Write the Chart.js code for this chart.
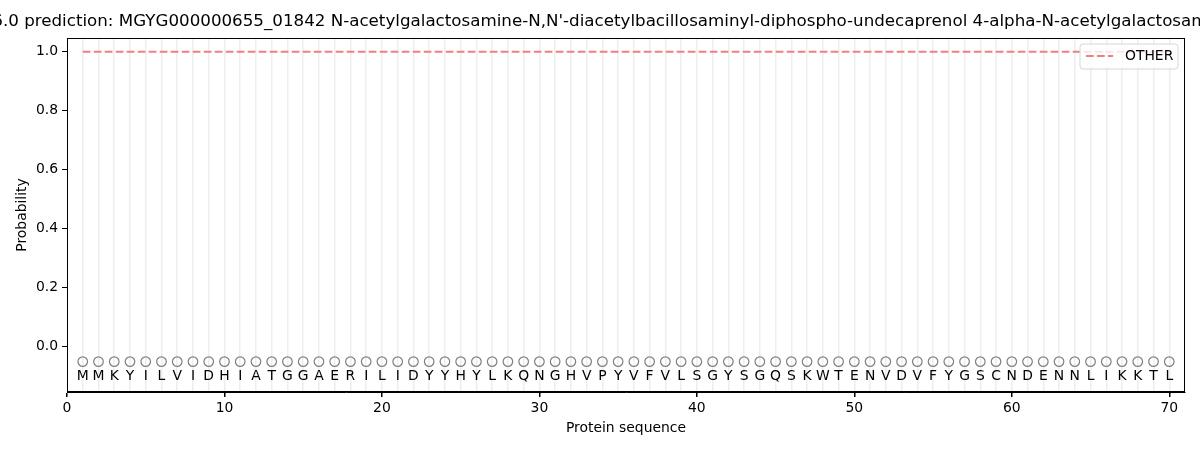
<!DOCTYPE html>
<html>
<head>
<meta charset="utf-8">
<script src="https://cdn.jsdelivr.net/npm/chart.js@4.4.0/dist/chart.umd.min.js"></script>
<style>
  html, body { margin: 0; padding: 0; background: #fff; }
  #wrap { width: 1200px; height: 450px; }
</style>
</head>
<body>
<div id="wrap"><canvas id="chart" width="1200" height="450"></canvas></div>
<script>
const chartTitle = "SignalP 6.0 prediction: MGYG000000655_01842 N-acetylgalactosamine-N,N'-diacetylbacillosaminyl-diphospho-undecaprenol 4-alpha-N-acetylgalactosaminyltransferase";

// residues of the protein, position = index + 1
const residues = [
  'M','M','K','Y','I','L','V','I','D','H',
  'I','A','T','G','G','A','E','R','I','L',
  'I','D','Y','Y','H','Y','L','K','Q','N',
  'G','H','V','P','Y','V','F','V','L','S',
  'G','Y','S','G','Q','S','K','W','T','E',
  'N','V','D','V','F','Y','G','S','C','N',
  'D','E','N','N','L','I','K','K','T','L'
];

// probability of class OTHER per residue
const otherProb = [
  1.0,1.0,1.0,1.0,1.0,1.0,1.0,1.0,1.0,1.0,
  1.0,1.0,1.0,1.0,1.0,1.0,1.0,1.0,1.0,1.0,
  1.0,1.0,1.0,1.0,1.0,1.0,1.0,1.0,1.0,1.0,
  1.0,1.0,1.0,1.0,1.0,1.0,1.0,1.0,1.0,1.0,
  1.0,1.0,1.0,1.0,1.0,1.0,1.0,1.0,1.0,1.0,
  1.0,1.0,1.0,1.0,1.0,1.0,1.0,1.0,1.0,1.0,
  1.0,1.0,1.0,1.0,1.0,1.0,1.0,1.0,1.0,1.0
];

const yTicks = [0.0, 0.2, 0.4, 0.6, 0.8, 1.0];
const xTickLabels = [0, 10, 20, 30, 40, 50, 60, 70];

const markerY = -0.05;
const letterY = -0.1;
const FONT = "'DejaVu Sans', sans-serif";

const otherPoints = otherProb.map((p, i) => ({ x: i + 1, y: p }));
const markerPoints = residues.map((r, i) => ({ x: i + 1, y: markerY }));

// title, frame, residue letters and legend box
const extras = {
  id: 'extras',
  afterDraw(chart) {
    const { ctx, chartArea: a, scales } = chart;
    ctx.save();

    ctx.strokeStyle = '#000';
    ctx.lineWidth = 1;
    ctx.strokeRect(a.left + 0.5, a.top + 0.5, a.right - a.left - 1, a.bottom - a.top - 1);

    ctx.fillStyle = '#000';
    ctx.font = '16.7px ' + FONT;
    ctx.textAlign = 'center';
    ctx.textBaseline = 'middle';
    ctx.fillText(chartTitle, (a.left + a.right) / 2 + 3, 22);

    ctx.font = '13.9px ' + FONT;
    residues.forEach((r, i) => {
      ctx.fillText(r, scales.x.getPixelForValue(i + 1), scales.y.getPixelForValue(letterY));
    });

    // legend
    const lx = a.right - 105, ly = a.top + 6, lw = 98, lh = 25;
    ctx.beginPath();
    ctx.roundRect(lx, ly, lw, lh, 3);
    ctx.fillStyle = 'rgba(255,255,255,0.8)';
    ctx.fill();
    ctx.strokeStyle = '#d6d6d6';
    ctx.stroke();
    ctx.beginPath();
    ctx.setLineDash([7.7, 3.3]);
    ctx.strokeStyle = '#f08080';
    ctx.lineWidth = 2;
    ctx.moveTo(lx + 6, ly + 12);
    ctx.lineTo(lx + 33, ly + 12);
    ctx.stroke();
    ctx.setLineDash([]);
    ctx.fillStyle = '#000';
    ctx.textAlign = 'left';
    ctx.font = '13.9px ' + FONT;
    ctx.fillText('OTHER', lx + 45, ly + 12.5);

    ctx.restore();
  }
};

new Chart(document.getElementById('chart'), {
  type: 'scatter',
  data: {
    datasets: [
      {
        label: 'OTHER',
        type: 'line',
        data: otherPoints,
        borderColor: '#f08080',
        borderWidth: 2,
        borderDash: [7.7, 3.3],
        pointRadius: 0,
        fill: false
      },
      {
        label: 'residues',
        data: markerPoints,
        pointRadius: 4.8,
        pointBorderWidth: 1.2,
        pointBorderColor: '#808080',
        pointBackgroundColor: 'rgba(0,0,0,0)'
      }
    ]
  },
  options: {
    responsive: false,
    animation: false,
    layout: { padding: { top: 38, right: 15, left: 0, bottom: 0 } },
    plugins: {
      legend: { display: false },
      title: { display: false },
      tooltip: { enabled: false }
    },
    scales: {
      x: {
        type: 'linear',
        min: 0,
        max: 71,
        afterFit(s) { s.height = 58; },
        ticks: {
          stepSize: 1,
          autoSkip: false,
          maxRotation: 0,
          padding: 3,
          color: '#000',
          font: { family: FONT, size: 13.9 },
          callback: v => xTickLabels.includes(v) ? String(v) : ''
        },
        grid: {
          drawOnChartArea: true,
          drawTicks: true,
          tickLength: 5,
          lineWidth: 1.5,
          color: c => (c.tick && c.tick.value >= 1 && c.tick.value <= 70) ? '#eeeeee' : 'rgba(0,0,0,0)',
          tickColor: c => (c.tick && xTickLabels.includes(c.tick.value)) ? '#000' : 'rgba(0,0,0,0)'
        },
        border: { display: true, color: '#000', width: 1 },
        title: {
          display: true,
          text: 'Protein sequence',
          color: '#000',
          font: { family: FONT, size: 13.9 },
          padding: { top: 0, bottom: 13 }
        }
      },
      y: {
        min: -0.153,
        max: 1.047,
        afterFit(s) { s.width = 67; },
        afterBuildTicks(s) { s.ticks = yTicks.map(v => ({ value: v })); },
        ticks: {
          padding: 4,
          color: '#000',
          font: { family: FONT, size: 13.9 },
          callback: v => v.toFixed(1)
        },
        grid: {
          drawOnChartArea: false,
          drawTicks: true,
          tickLength: 5,
          tickColor: '#000'
        },
        border: { display: true, color: '#000', width: 1 },
        title: {
          display: true,
          text: 'Probability',
          color: '#000',
          font: { family: FONT, size: 13.9 },
          padding: { top: 14, bottom: 4 }
        }
      }
    }
  },
  plugins: [extras]
});
</script>
</body>
</html>
